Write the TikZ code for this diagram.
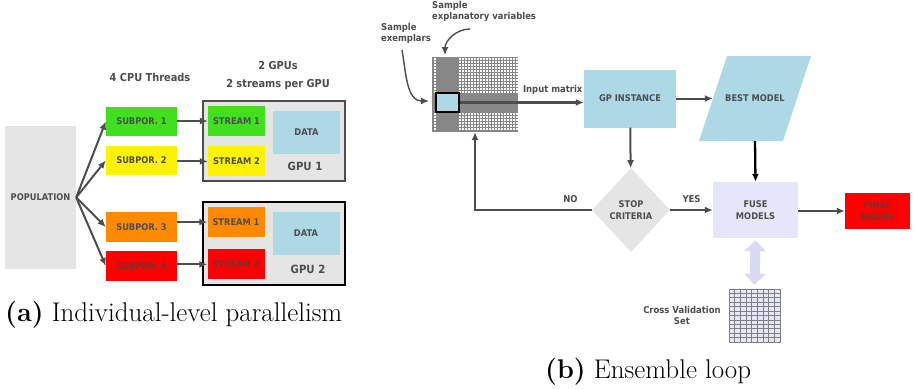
\documentclass[tikz,border=0pt]{standalone}
\usepackage{fontspec}
\usepackage{tikz}
\usetikzlibrary{arrows.meta,positioning,shapes.geometric}
\newfontfamily\boxfont[FakeStretch=0.9]{DejaVu Sans}
\definecolor{txtgray}{HTML}{4D4D4D}
\definecolor{boxgray}{HTML}{E5E5E5}
\definecolor{gpblue}{HTML}{ADD8E6}
\definecolor{lavender}{HTML}{E6E6FA}
\definecolor{cvarrow}{HTML}{D9D9F3}
\definecolor{subgreen}{HTML}{40E01F}
\definecolor{suborange}{HTML}{FF8A00}
\definecolor{matgray}{HTML}{878787}
\definecolor{redtxt}{HTML}{6E3535}
\tikzstyle{block}=[fill=boxgray, text=txtgray, align=center, inner sep=0pt, font=\boxfont\bfseries\fontsize{9.2}{11.5}\selectfont]
\tikzstyle{sub}=[block, minimum width=71, minimum height=29.5]
\tikzstyle{stream}=[block, minimum width=57, minimum height=30]
\tikzstyle{heading}=[text=txtgray, align=center, inner sep=0pt, font=\boxfont\bfseries\fontsize{10.9}{18}\selectfont]
\tikzstyle{note}=[text=txtgray, align=left, inner sep=0pt, font=\boxfont\bfseries\fontsize{9.4}{11}\selectfont]
\tikzstyle{flow}=[->, draw=txtgray, line width=2pt]
\tikzstyle{pointer}=[->, draw=txtgray, line width=1.4pt]
\tikzstyle{caption}=[anchor=west, inner sep=0pt, font=\fontsize{27}{32}\selectfont]

\begin{document}
\begin{tikzpicture}[x=1pt,y=-1pt,>={Latex[length=8pt,width=7pt]},node distance=9pt]
\useasboundingbox (0,0) rectangle (915,388);

% (a) subpopulations on CPU threads and GPU streams
\node [heading] (cpu) at (150,77) {4 CPU Threads};
\node [heading] (gpus) at (278,76) {2 GPUs\\2 streams per GPU};
\node [block, minimum width=71, minimum height=143] (pop) at (40.5,197.5) {POPULATION};
\node [sub, fill=subgreen] (sub1) at (141.5,121.5) {SUBPOR. 1};
\node [sub, fill=yellow] (sub2) [below=of sub1] {SUBPOR. 2};
\node [sub, fill=suborange] (sub3) at (141.5,227) {SUBPOR. 3};
\node [sub, fill=red, text=redtxt] (sub4) [below=of sub3] {SUBPOR. 4};

\node [draw=txtgray, line width=1.8pt, fill=boxgray, minimum width=142, minimum height=80] (gpu1) at (274,141) {};
\node [draw=black, line width=2.2pt, fill=boxgray, minimum width=142, minimum height=83] (gpu2) at (274,243.5) {};
\node [stream, fill=subgreen] (st1) at (236.5,121) {STREAM 1};
\node [stream, fill=yellow] (st2) [below=10pt of st1] {STREAM 2};
\node [stream, fill=suborange] (st3) at (236,222) {STREAM 1};
\node [stream, fill=red, text=redtxt] (st4) [below=12pt of st3] {STREAM 2};
\node [block, fill=gpblue, minimum width=67, minimum height=43] (data1) at (306.5,132.5) {DATA};
\node [block, fill=gpblue, minimum width=67, minimum height=43] (data2) at (306,233.5) {DATA};
\node [heading, font=\boxfont\bfseries\fontsize{11.3}{12}\selectfont] (g1) at (305,166) {GPU 1};
\node [heading, font=\boxfont\bfseries\fontsize{11.3}{12}\selectfont] (g2) at (308,269) {GPU 2};

\foreach \s in {sub1,sub2,sub3,sub4}
  \draw [flow] (pop.east) -- (\s.west);
\foreach \s/\t in {sub1/st1,sub2/st2,sub3/st3,sub4/st4}
  \draw [flow] (\s.east |- \t.west) -- (\t.west);

\node [caption] (capa) at (5,315) {\textbf{(a)} Individual-level parallelism};

% (b) ensemble loop
\node [fill=matgray, minimum width=86, minimum height=75, inner sep=0pt] (mat) at (475,94.5) {};
\foreach \i in {0,...,19} {
  \foreach \j in {0,...,11}
    \fill [white] ({459+3*\i},{58+3*\j}) rectangle +(2,2);
  \foreach \j in {0,...,5}
    \fill [white] ({459+3*\i},{113+3*\j}) rectangle +(2,2);
}
\foreach \j in {0,...,11}
  \fill [white] (433.5,{58+3*\j}) rectangle +(2,2);
\foreach \j in {0,...,5}
  \fill [white] (433.5,{113+3*\j}) rectangle +(2,2);
\node [draw=black, line width=1.2pt, fill=gpblue, minimum width=23, minimum height=19, inner sep=0pt] (pick) at (447.5,102.5) {};

\node [note, anchor=north west] (varlab) at (432,1) {Sample\\explanatory variables};
\node [note, anchor=north west] (exlab) at (381,23) {Sample\\exemplars};
\coordinate (varfrom) at (470,29);
\coordinate (varto) at (445,55);
\coordinate (exfrom) at (402,50);
\coordinate (exto) at (429,101);
\draw [pointer] (varfrom) to[out=180,in=90] (varto);
\draw [pointer] (exfrom) to[out=-80,in=180] (exto);

\node [block, fill=gpblue, minimum width=92, minimum height=58] (gp) at (630,98.5) {GP INSTANCE};
% parallelogram drawn behind the model node
\fill [gpblue] (699,141) -- (783,141) -- (811,56) -- (727,56) -- cycle;
\node [block, fill=none, minimum width=84, minimum height=85] (best) at (755,98.5) {BEST MODEL};
\node [block, diamond, minimum width=78, minimum height=84] (stop) at (631,210) {STOP\\CRITERIA};
\node [block, fill=lavender, minimum width=85, minimum height=56] (fuse) at (755.5,210) {FUSE\\MODELS};
\node [block, fill=red, text=redtxt, minimum width=65, minimum height=36] (final) at (877.5,211) {FINAL\\MODEL};

\draw [flow, line width=3pt] (pick.east) -- (pick.east -| gp.west) node [note, midway, above=7pt, xshift=31pt] (inlab) {Input matrix};
\draw [flow] (gp) -- (best);
\draw [flow] (gp) -- (stop);
\draw [flow, draw=black, line width=2.3pt] (best.south) -- (fuse.north);
\draw [flow] (stop) -- node [note, above=6pt] (yes) {YES} (fuse);
\draw [flow] (stop.west) -- node [note, above=6pt, xshift=37pt] (no) {NO} (mat.south |- stop.west) -- (mat.south);
\draw [flow] (fuse.east |- final.west) -- (final.west);

% cross validation data
\node [fill=lavender, draw=gray, minimum width=51, minimum height=53, inner sep=0pt] (cv) at (754.5,315.5) {};
\foreach \k in {1,...,8}
  \draw [gray, line width=0.8pt] ({729+\k*51/9},289) -- ++(0,53);
\foreach \k in {1,...,11}
  \draw [gray, line width=0.8pt] (729,{289+\k*53/12}) -- ++(51,0);
\node [note, align=center, left=8pt of cv] (cvlab) {Cross Validation\\Set};
\draw [cvarrow, line width=10pt, {Triangle[width=21pt,length=11pt]}-{Triangle[width=21pt,length=11pt]}, shorten <=2pt, shorten >=4pt] (fuse.south) -- (cv.north);

\node [caption] (capb) at (545,372) {\textbf{(b)} Ensemble loop};
\end{tikzpicture}
\end{document}
